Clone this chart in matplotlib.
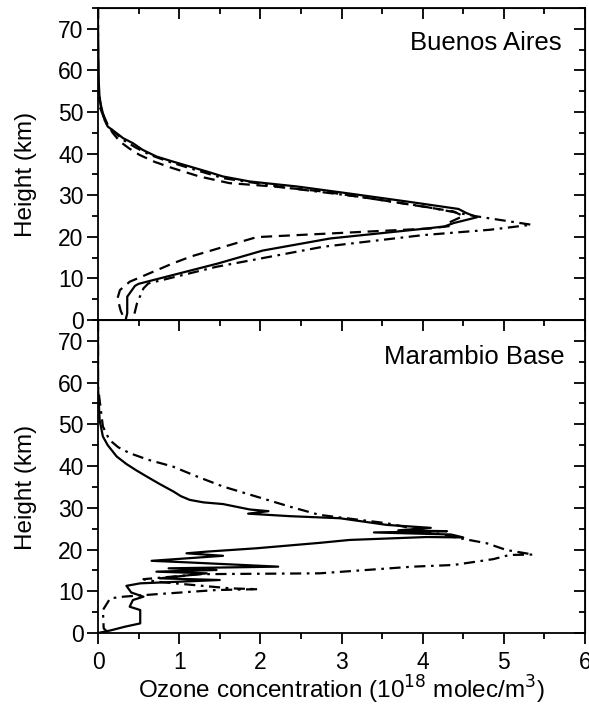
import matplotlib
matplotlib.use('Agg')
import matplotlib.pyplot as plt
from matplotlib.ticker import MultipleLocator

plt.rcParams['font.family'] = ['Liberation Sans', 'DejaVu Sans']

# Buenos Aires profiles (ozone 10^18 molec/m3, height km)
ba_solid_x = [0, 0, 0.01, 0.02, 0.04, 0.08, 0.12, 0.23, 0.31, 0.43, 0.55, 0.72, 0.92, 1.13,
              1.34, 1.54, 1.87, 2.45, 3.06, 3.8, 4.44, 4.54, 4.67, 4.38, 4.27, 4.07, 2.86,
              2.03, 1.48, 0.5, 0.455, 0.36, 0.36, 0.34]
ba_solid_h = [75, 69, 57, 53, 51.3, 48.1, 46.5, 44.9, 43.7, 42.5, 40.9, 39.3, 38.1, 36.9,
              35.7, 34.5, 33.3, 32.1, 30.5, 28.5, 26.7, 25.7, 24.7, 23.3, 22.5, 22.05, 19.6,
              16.7, 13.6, 8.7, 8.2, 5.6, 1.6, 0]

ba_dash_x = [0, 0, 0.04, 0.12, 0.18, 0.27, 0.38, 0.51, 0.7, 0.92, 1.25, 1.62, 2.16, 2.77,
             3.47, 4.38, 4.5, 4.31, 4.34, 4.09, 2.03, 1.95, 1.15, 0.92, 0.39, 0.27, 0.24,
             0.28, 0.33]
ba_dash_h = [75, 57, 50.5, 46.9, 45.0, 42.9, 41.3, 39.7, 38.0, 36.5, 34.5, 32.9, 32.1, 30.9,
             28.9, 26.1, 25.0, 23.3, 22.6, 22.0, 20.0, 19.9, 15.3, 13.6, 9.2, 7.2, 5.2,
             2.2, 0]

ba_dd_x = [0, 0, 0.02, 0.10, 0.19, 0.31, 0.46, 0.64, 0.88, 1.13, 1.54, 2.36, 3.19, 4.01,
           4.67, 5.34, 4.83, 4.0, 2.77, 1.46, 0.62, 0.56, 0.48, 0.43]
ba_dd_h = [75, 57, 51.3, 47.3, 45.3, 43.3, 41.5, 39.7, 38.0, 36.5, 34.1, 31.7, 29.7, 27.3,
           24.9, 22.9, 21.7, 20.4, 17.6, 12.8, 8.8, 7.6, 4.0, 0]

# Marambio Base profiles
mb_solid_x = [0, 0, 0.02, 0.06, 0.12, 0.23, 0.35, 0.47, 0.6, 0.76, 0.93, 1.02, 1.13, 1.3,
              1.54, 1.87, 2.1, 1.85, 2.36, 2.98, 3.56, 4.1, 3.7, 4.3, 3.4, 4.35, 4.5, 4.05,
              3.1, 2.73, 1.95, 1.34, 1.09, 1.54, 0.66, 1.13, 2.22, 0.87, 1.46, 0.72, 1.34,
              0.76, 1.5, 0.52, 0.35, 0.41, 0.56, 0.43, 0.39, 0.52, 0.52, 0.33, 0.15, 0]
mb_solid_h = [75, 59, 51, 47.1, 45.0, 42.3, 40.5, 39.0, 37.5, 35.7, 33.9, 32.8, 31.9, 31.3,
              30.9, 29.6, 29.2, 28.6, 28.0, 27.5, 25.9, 25.2, 24.6, 24.4, 24.1, 23.6, 22.9, 23.0,
              22.3, 21.6, 20.3, 19.5, 19.1, 18.5, 17.3, 16.9, 15.9, 15.5, 15.1, 14.7, 14.3,
              13.1, 12.7, 11.9, 11.3, 9.7, 8.7, 7.9, 6.3, 5.5, 2.3, 1.5, 0.6, 0]

mb_dd_x = [0, 0, 0.06, 0.14, 0.25, 0.39, 0.62, 0.92, 1.22, 1.54, 1.95, 2.36, 2.73, 3.56,
           4.17, 4.46, 4.79, 5.03, 5.36, 5.07, 4.87, 4.38, 3.88, 2.73, 1.26, 0.56, 0.72,
           1.63, 1.97, 1.46, 0.72, 0.31, 0.15, 0.06, 0.07, 0.12]
mb_dd_h = [75, 59, 49.5, 46.3, 44.5, 43.1, 41.5, 39.9, 37.5, 35.1, 32.7, 30.3, 28.3, 26.3,
           23.9, 22.7, 21.5, 19.9, 18.8, 18.7, 17.7, 16.3, 15.9, 14.3, 14.1, 12.9, 12.3,
           10.7, 10.5, 10.3, 9.3, 8.7, 8.3, 5.5, 1.1, 0.2]

fig = plt.figure(figsize=(5.89, 7.06), dpi=100)
ax1 = fig.add_axes([0.1664, 0.5467, 0.8268, 0.442])
ax2 = fig.add_axes([0.1664, 0.1034, 0.8268, 0.4433])

lw = 1.6
dash = (5, 3)
dashdot = (5, 2.5, 1.2, 2.5)

ax1.plot(ba_solid_x, ba_solid_h, color='black', lw=lw)
ax1.plot(ba_dash_x, ba_dash_h, color='black', lw=lw, dashes=dash)
ax1.plot(ba_dd_x, ba_dd_h, color='black', lw=lw, dashes=dashdot)

ax2.plot(mb_solid_x, mb_solid_h, color='black', lw=lw)
ax2.plot(mb_dd_x, mb_dd_h, color='black', lw=lw, dashes=dashdot)

for ax in (ax1, ax2):
    ax.set_xlim(0, 6)
    ax.set_ylim(0, 75)
    ax.xaxis.set_major_locator(MultipleLocator(1))
    ax.xaxis.set_minor_locator(MultipleLocator(0.5))
    ax.yaxis.set_major_locator(MultipleLocator(10))
    ax.yaxis.set_minor_locator(MultipleLocator(5))
    ax.tick_params(which='major', direction='out', length=8, width=1.3, labelsize=16.5)
    ax.tick_params(which='minor', direction='out', length=4.5, width=1.3)
    ax.tick_params(axis='y', pad=2.5)
    ax.tick_params(axis='x', pad=5)
    for s in ax.spines.values():
        s.set_linewidth(1.3)
    ax.set_ylabel('Height (km)', fontsize=17.5, va='center')
    ax.yaxis.set_label_coords(-0.147, 0.465)
    # inward ticks on top and right
    top = ax.secondary_xaxis('top')
    top.xaxis.set_major_locator(MultipleLocator(1))
    top.xaxis.set_minor_locator(MultipleLocator(0.5))
    top.tick_params(which='major', direction='in', length=8, width=1.3, labeltop=False)
    top.tick_params(which='minor', direction='in', length=4.5, width=1.3)
    right = ax.secondary_yaxis('right')
    right.yaxis.set_major_locator(MultipleLocator(10))
    right.yaxis.set_minor_locator(MultipleLocator(5))
    right.tick_params(which='major', direction='in', length=8, width=1.3, labelright=False)
    right.tick_params(which='minor', direction='in', length=4.5, width=1.3)

ax1.tick_params(labelbottom=False)
ax1.text(0.952, 0.888, 'Buenos Aires', transform=ax1.transAxes, ha='right', va='center', fontsize=18.5)
ax2.text(0.959, 0.883, 'Marambio Base', transform=ax2.transAxes, ha='right', va='center', fontsize=18.5)
ax2.set_xlabel('Ozone concentration (10$^{18}$ molec/m$^{3}$)', fontsize=17.5, va='center')
ax2.xaxis.set_label_coords(0.499, -0.182)

fig.savefig('out.png', dpi=100)
